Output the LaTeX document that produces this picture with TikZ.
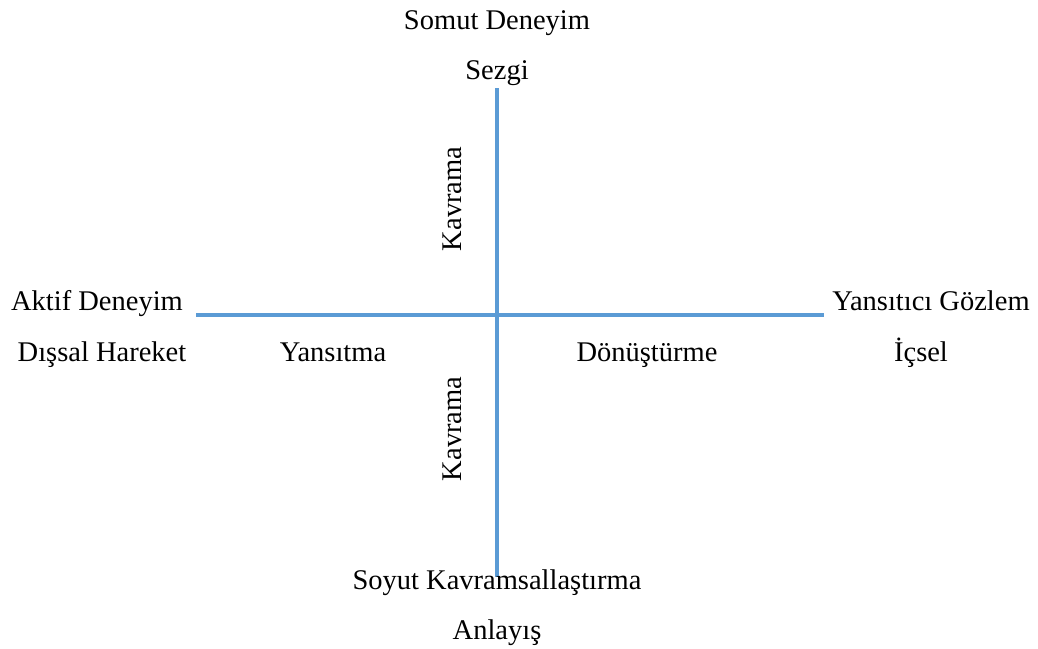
\documentclass[tikz,border=0pt]{standalone}
\usepackage{fontspec}
\setmainfont{Liberation Serif}
\definecolor{axisblue}{HTML}{5B9BD5}
\begin{document}
\begin{tikzpicture}[x=1pt,y=-1pt,
  lbl/.style={inner sep=0pt, text height=0.72em, text depth=0.22em,
    font=\fontsize{28.5}{34}\selectfont},
  axis/.style={draw=axisblue, line width=4pt}]
\useasboundingbox (0,0) rectangle (1038,648);
% axis end points
\coordinate (top) at (497,88);
\coordinate (bottom) at (497,577);
\coordinate (left) at (196,315);
\coordinate (right) at (824,315);
\draw[axis] (top) -- (bottom);
\draw[axis] (left) -- (right);
% labels
\node[lbl] (somut) at (497,27) {Somut Deneyim};
\node[lbl] (sezgi) at (497,77) {Sezgi};
\node[lbl, rotate=90] (kav1) at (459,199) {Kavrama};
\node[lbl, rotate=90] (kav2) at (459,429) {Kavrama};
\node[lbl] (aktif) at (97,308) {Aktif Deneyim};
\node[lbl] (yg) at (931,308) {Yansıtıcı Gözlem};
\node[lbl] (dis) at (102,359) {Dışsal Hareket};
\node[lbl] (yans) at (333,359) {Yansıtma};
\node[lbl] (donus) at (647,359) {Dönüştürme};
\node[lbl] (icsel) at (921,359) {İçsel};
\node[lbl] (soyut) at (497,587) {Soyut Kavramsallaştırma};
\node[lbl] (anl) at (497,637) {Anlayış};
\end{tikzpicture}
\end{document}
